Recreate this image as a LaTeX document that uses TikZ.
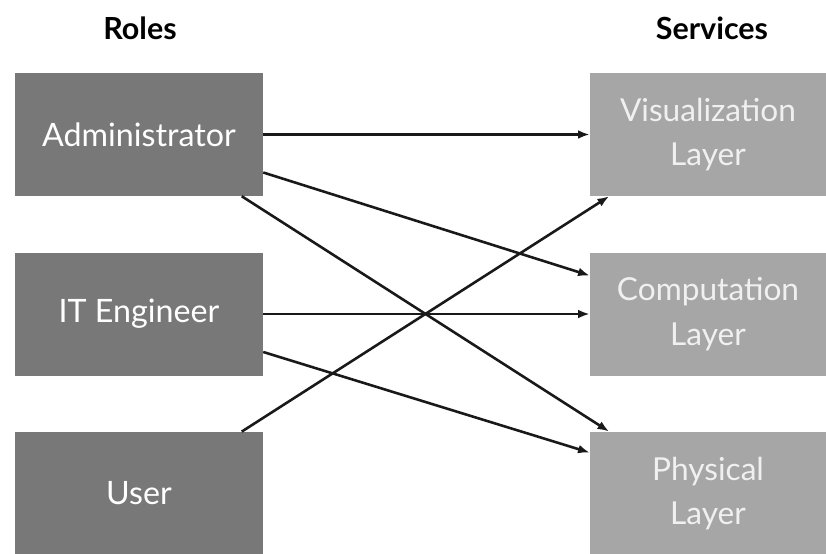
\documentclass[tikz,border=0pt]{standalone}
\usepackage{fontspec}
\setmainfont{Lato}
\usepackage{xcolor}
\definecolor{roledark}{RGB}{120,120,120}
\definecolor{servlight}{RGB}{166,166,166}
\definecolor{servtext}{RGB}{240,240,240}
\usepackage{tikz}
\usetikzlibrary{arrows.meta, positioning}

\begin{document}
\begin{tikzpicture}[
    rolebox/.style={fill=roledark, text=white, minimum width=7.44cm, minimum height=3.69cm,
      inner sep=0pt, font=\fontsize{27.5}{32}\selectfont},
    servbox/.style={fill=servlight, text=servtext, minimum width=7.08cm, minimum height=3.69cm,
      inner sep=0pt, align=center, font=\fontsize{27}{38}\selectfont},
    head/.style={font=\fontsize{26}{30}\selectfont\bfseries},
    link/.style={-{Latex[length=10pt,width=7.5pt]}, line width=2.2pt, black!90}
  ]
  \useasboundingbox (0,0) rectangle (24.78,-16.59);
  % Headings
  \node[head] (roles) at (4.2,-0.85) {Roles};
  \node[head] (services) at (21.36,-0.85) {Services};
  % Roles
  \node[rolebox] (admin) at (4.17,-4.035) {Administrator};
  \node[rolebox] (itEng) at (4.17,-9.42) {IT Engineer};
  \node[rolebox] (user) at (4.17,-14.8) {User};
  % Services
  \node[servbox] (vis) at (21.24,-4.035) {Visualization\\Layer};
  \node[servbox] (comp) at (21.24,-9.42) {Computation\\Layer};
  \node[servbox] (phys) at (21.24,-14.8) {Physical\\Layer};
  % Access links
  \draw[link] (admin.east) -- (vis.west);
  \draw[link] (admin.-17) -- (comp.162);
  \draw[link] (admin.-31) -- (phys.148);
  \draw[link] (itEng.east) -- (comp.west);
  \draw[link] (itEng.-17) -- (phys.161);
  \draw[link] (user.31) -- (vis.-148);
\end{tikzpicture}
\end{document}
